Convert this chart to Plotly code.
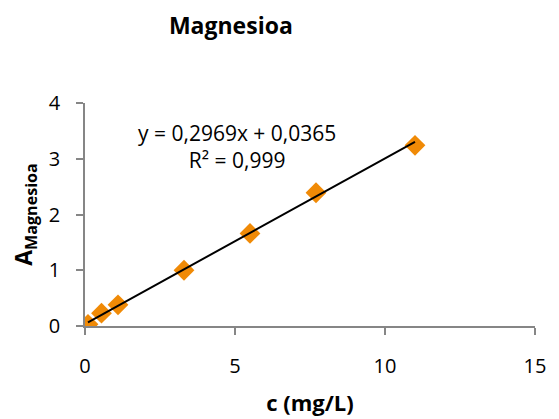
import plotly.graph_objects as go

conc = [0.1, 0.55, 1.1, 3.3, 5.5, 7.7, 11.0]
absorb = [0.03, 0.23, 0.38, 1.0, 1.66, 2.39, 3.24]
slope = 0.2969
intercept = 0.0365
eq_text = "y = 0,2969x + 0,0365<br>R² = 0,999"
x_ticks = [0, 5, 10, 15]
y_ticks = [0, 1, 2, 3, 4]

FONT = "Open Sans"
AXIS = "#868686"

trend_x = [min(conc), max(conc)]
trend_y = [slope * v + intercept for v in trend_x]

fig = go.Figure()
fig.add_trace(go.Scatter(x=conc, y=absorb, mode="markers",
                         marker=dict(symbol="diamond", size=16, color="#F08A06",
                                     line=dict(width=0)),
                         showlegend=False))
fig.add_trace(go.Scatter(x=trend_x, y=trend_y, mode="lines",
                         line=dict(color="black", width=2), showlegend=False))

fig.add_annotation(x=5.07, y=3.22, xref="x", yref="y", text=eq_text, showarrow=False,
                   align="center", font=dict(family=FONT, size=21, color="black"))

fig.update_layout(
    width=559, height=419,
    margin=dict(l=85, r=24, t=103, b=93, autoexpand=False),
    paper_bgcolor="white", plot_bgcolor="white",
    title=dict(text="<b>Magnesioa</b>", x=0.413, xanchor="center", y=0.938, yanchor="middle",
               font=dict(family=FONT, size=23, color="black")),
    font=dict(family=FONT, size=20, color="black"),
)
fig.update_xaxes(range=[0, 15], tickvals=x_ticks, showgrid=False, zeroline=False,
                 showline=True, linecolor=AXIS, linewidth=1.5, ticks="outside",
                 tickcolor=AXIS, ticklen=7, tickwidth=1.5, ticklabelstandoff=14,
                 automargin=False,
                 title=dict(text="<b>c (mg/L)</b>", font=dict(family=FONT, size=22), standoff=18))
fig.update_yaxes(range=[0, 4], tickvals=y_ticks, showgrid=False, zeroline=False,
                 showline=True, linecolor=AXIS, linewidth=1.5, ticks="outside",
                 tickcolor=AXIS, ticklen=7, tickwidth=1.5, ticklabelstandoff=12,
                 automargin=False,
                 title=dict(text="<b>A<sub>Magnesioa</sub></b>", font=dict(family=FONT, size=23), standoff=10))

fig.write_html("out.html")
